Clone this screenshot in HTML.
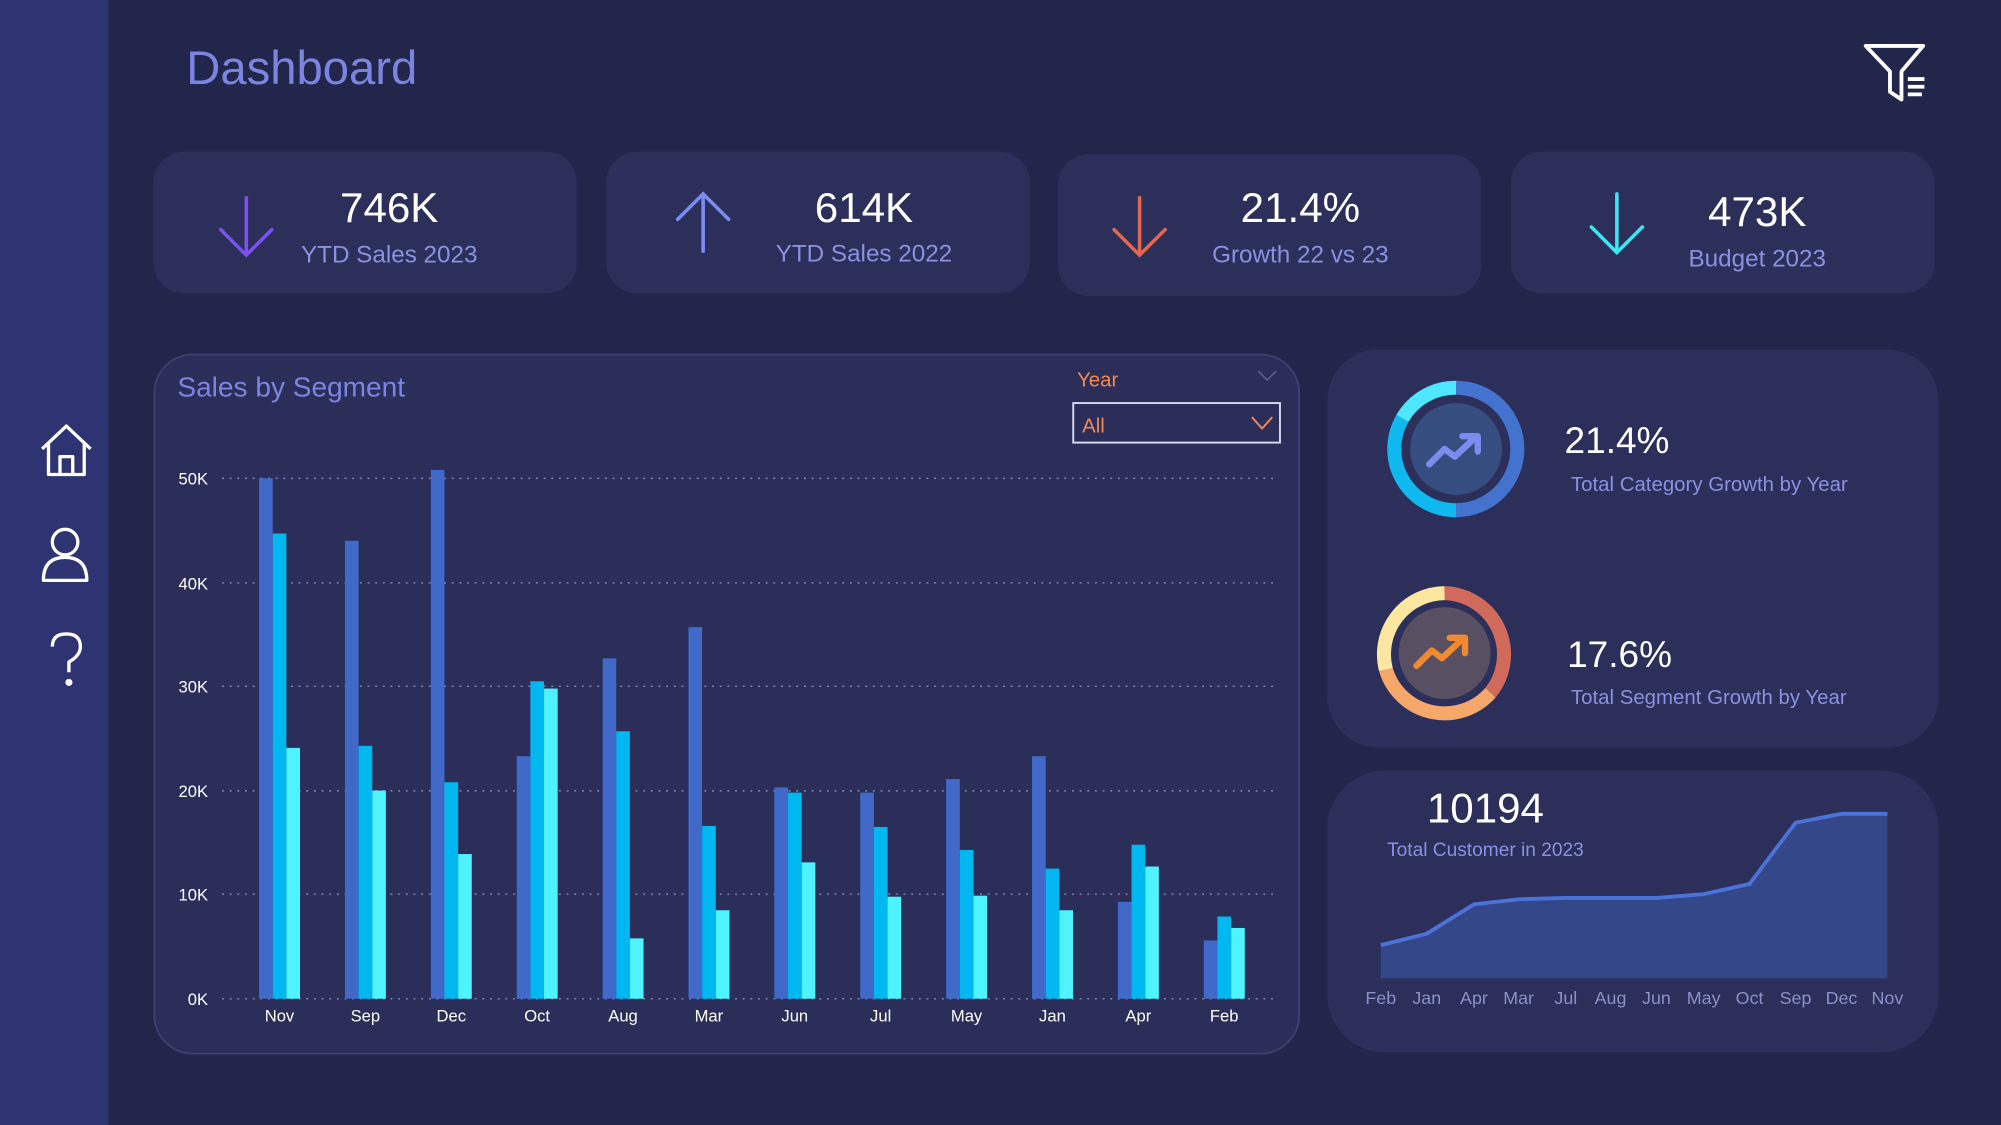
<!DOCTYPE html>
<html><head><meta charset="utf-8"><style>
html,body{margin:0;padding:0;background:#22264a;}
svg{display:block;font-family:"Liberation Sans",sans-serif;}
</style></head><body>
<svg width="2001" height="1125" viewBox="0 0 1568 882" preserveAspectRatio="none" xmlns="http://www.w3.org/2000/svg">
<rect width="1568" height="882" fill="#22264a"/>
<rect width="85" height="882" fill="#2e3372"/>
<text x="146" y="66" font-size="37" fill="#7c84e2">Dashboard</text>
<!-- filter icon -->
<g fill="none" stroke="#fff" stroke-width="3" stroke-linejoin="round">
<path d="M1462 36 H1507 L1490 56 V78 L1481 72 V56 Z"/>
<path d="M1495 62 H1508 M1495 68 H1508 M1495 74 H1506"/>
</g>
<!-- sidebar icons -->
<g fill="none" stroke="#fff" stroke-width="2.6" stroke-linejoin="round">
<path d="M33 352 L52 334 L71 352 M38 348 V372 H66 V348 M47 372 V358 H57 V372"/>
<circle cx="51" cy="425" r="10"/>
<path d="M34 455 Q34 437 51 437 Q68 437 68 455 Z"/>
<path d="M41 507 Q41 497 52 497 Q63 497 63 507 Q63 514 54 519 V527"/>
<circle cx="54" cy="535" r="1.5" fill="#fff"/>
</g>
<!-- KPI cards -->
<g fill="#2b2f5a">
<rect x="120" y="119" width="332" height="111" rx="24"/>
<rect x="475" y="119" width="332" height="111" rx="24"/>
<rect x="829" y="121" width="332" height="111" rx="24"/>
<rect x="1184" y="119" width="332" height="111" rx="24"/>
</g>
<g fill="none" stroke-width="2.8" stroke-linecap="round">
<path d="M193 155 V200 M173 180 L193 200 L213 180" stroke="#7b4ff0"/>
<path d="M551 197 V152 M531 172 L551 152 L571 172" stroke="#7b8cf0"/>
<path d="M893 155 V200 M873 180 L893 200 L913 180" stroke="#e0664f"/>
<path d="M1267 152 V198 M1247 178 L1267 198 L1287 178" stroke="#40e3f0"/>
</g>
<g font-size="33" fill="#fff" text-anchor="middle">
<text x="305" y="174">746K</text>
<text x="677" y="174">614K</text>
<text x="1019" y="174">21.4%</text>
<text x="1377" y="177">473K</text>
</g>
<g font-size="19" fill="#8a91e0" text-anchor="middle">
<text x="305" y="206">YTD Sales 2023</text>
<text x="677" y="205">YTD Sales 2022</text>
<text x="1019" y="206">Growth 22 vs 23</text>
<text x="1377" y="209">Budget 2023</text>
</g>
<!-- Sales by segment card -->
<rect x="121" y="278" width="897" height="548" rx="30" fill="#2a2e58" stroke="#3b4070" stroke-width="1.5"/>
<text x="139" y="311" font-size="22" fill="#7c84e2">Sales by Segment</text>
<text x="844" y="303" font-size="16" fill="#f08a55">Year</text>
<path d="M986 291 L993 298 L1000 291" fill="none" stroke="#5b6090" stroke-width="1.2"/>
<rect x="841" y="316" width="162" height="31" fill="none" stroke="#d8dcf0" stroke-width="1.5"/>
<text x="848" y="339" font-size="16" fill="#f08a55">All</text>
<path d="M981 327 L989 336 L997 327" fill="none" stroke="#f08a55" stroke-width="1.5"/>
<g stroke="#7c82b0" stroke-width="1.2" stroke-dasharray="1.5 4.5">
<line x1="174" y1="375" x2="1000" y2="375"/>
<line x1="174" y1="457" x2="1000" y2="457"/>
<line x1="174" y1="538" x2="1000" y2="538"/>
<line x1="174" y1="620" x2="1000" y2="620"/>
<line x1="174" y1="701" x2="1000" y2="701"/>
<line x1="174" y1="783" x2="1000" y2="783"/>
</g>
<g font-size="13" fill="#fff" text-anchor="end">
<text x="163" y="380">50K</text>
<text x="163" y="462">40K</text>
<text x="163" y="543">30K</text>
<text x="163" y="625">20K</text>
<text x="163" y="706">10K</text>
<text x="163" y="788">0K</text>
</g>
<g id="bars"></g>
<g font-size="13" fill="#fff" text-anchor="middle" id="xl"></g>
<!-- right card 1 -->
<rect x="1040" y="274" width="479" height="312" rx="40" fill="#2b2f5a"/>
<g fill="none" stroke-width="11">
<path d="M1141 304 A48 48 0 0 1 1141 400" stroke="#4472cf"/>
<path d="M1141 400 A48 48 0 0 1 1099 328" stroke="#10b8f0"/>
<path d="M1099 328 A48 48 0 0 1 1141 304" stroke="#4fe6ff"/>
<path d="M1132 465 A48 48 0 0 1 1168 543" stroke="#d06a5a"/>
<path d="M1168 543 A48 48 0 0 1 1086 525" stroke="#f6a86a"/>
<path d="M1086 525 A48 48 0 0 1 1132 465" stroke="#fde7a0"/>
</g>
<circle cx="1141" cy="352" r="36" fill="#364d7f"/>
<circle cx="1132" cy="512" r="36" fill="#594f63"/>
<g fill="none" stroke-width="5" stroke-linecap="round" stroke-linejoin="round">
<path d="M1120 364 L1132 352 L1140 358 L1156 343 M1146 342 H1158 V354" stroke="#7b8cf0"/>
<path d="M1110 522 L1122 510 L1130 516 L1146 501 M1136 500 H1148 V512" stroke="#f08a30"/>
</g>
<text x="1226" y="355" font-size="29" fill="#fff">21.4%</text>
<text x="1231" y="385" font-size="16" fill="#8a91e0">Total Category Growth by Year</text>
<text x="1228" y="523" font-size="29" fill="#fff">17.6%</text>
<text x="1231" y="552" font-size="16" fill="#8a91e0">Total Segment Growth by Year</text>
<!-- right card 2 -->
<rect x="1040" y="604" width="479" height="221" rx="45" fill="#2b2f5a"/>
<text x="1164" y="645" font-size="33" fill="#fff" text-anchor="middle">10194</text>
<text x="1164" y="671" font-size="15" fill="#8a91e0" text-anchor="middle">Total Customer in 2023</text>
<path d="M1082 741 L1118 732 L1155 709 L1190 705 L1227 704 L1262 704 L1298 704 L1335 701 L1371 693 L1407 645 L1443 638 L1479 638 V767 H1082 Z" fill="#344789"/>
<path d="M1082 741 L1118 732 L1155 709 L1190 705 L1227 704 L1262 704 L1298 704 L1335 701 L1371 693 L1407 645 L1443 638 L1479 638" fill="none" stroke="#4a72d8" stroke-width="3"/>
<g font-size="14" fill="#8a91c8" text-anchor="middle">
<text x="1082" y="787">Feb</text><text x="1118" y="787">Jan</text><text x="1155" y="787">Apr</text><text x="1190" y="787">Mar</text><text x="1227" y="787">Jul</text><text x="1262" y="787">Aug</text><text x="1298" y="787">Jun</text><text x="1335" y="787">May</text><text x="1371" y="787">Oct</text><text x="1407" y="787">Sep</text><text x="1443" y="787">Dec</text><text x="1479" y="787">Nov</text>
</g>
<g>
<!-- bars generated statically -->
</g>
<script>
var d=[["Nov",50,44.7,24.1],["Sep",44,24.3,20],["Dec",50.8,20.8,13.9],["Oct",23.3,30.5,29.8],["Aug",32.7,25.7,5.8],["Mar",35.7,16.6,8.5],["Jun",20.3,19.8,13.1],["Jul",19.8,16.5,9.8],["May",21.1,14.3,9.9],["Jan",23.3,12.5,8.5],["Apr",9.3,14.8,12.7],["Feb",5.6,7.9,6.8]];
var c=["#4169c9","#00b7f0","#4ff2ff"],ns="http://www.w3.org/2000/svg",b=document.getElementById("bars"),x=document.getElementById("xl");
d.forEach(function(r,i){var cx=219+i*67.3;for(var k=0;k<3;k++){var h=r[k+1]*8.16,e=document.createElementNS(ns,"rect");e.setAttribute("x",cx-16+k*10.7);e.setAttribute("y",783-h);e.setAttribute("width",10.7);e.setAttribute("height",h);e.setAttribute("fill",c[k]);b.appendChild(e);}
var t=document.createElementNS(ns,"text");t.setAttribute("x",cx);t.setAttribute("y",801);t.textContent=r[0];x.appendChild(t);});
</script>
</svg>
</body></html>
